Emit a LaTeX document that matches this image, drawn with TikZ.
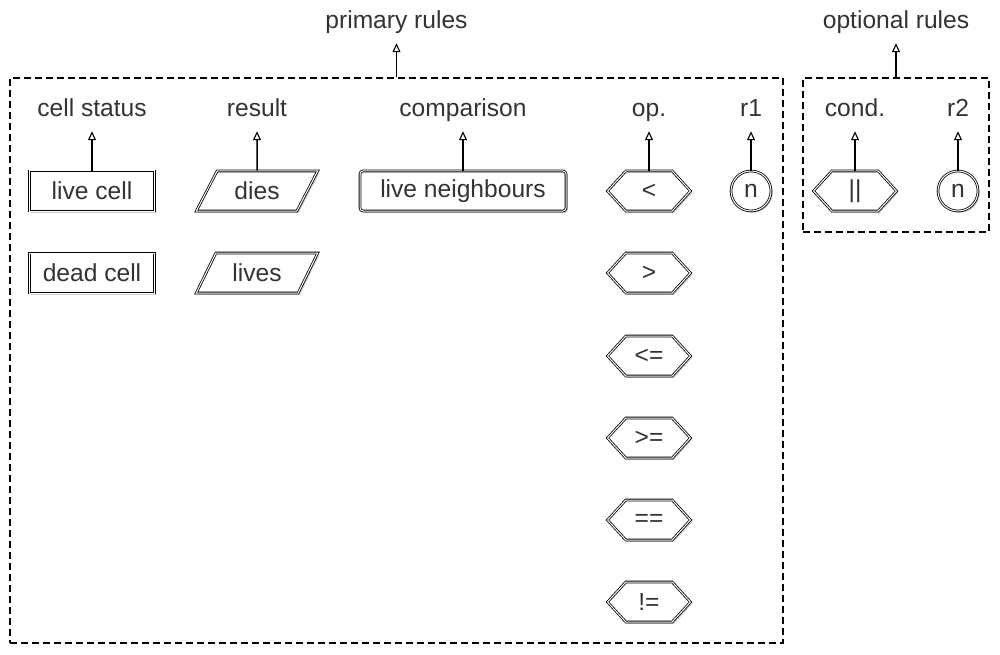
\documentclass[tikz,border=0pt]{standalone}
\usepackage{fontspec}
\setmainfont{Liberation Sans}
\usetikzlibrary{shapes.geometric,shapes.symbols,arrows.meta,shadows}
\definecolor{txt}{HTML}{333333}
\begin{document}
\begin{tikzpicture}[x=1pt,y=-1pt,
 every node/.style={font=\fontsize{24.6}{28}\selectfont, text=txt},
 sk/.style={draw, line width=0.8pt, double=white, double distance=1pt, fill=white,
   minimum height=40pt, inner sep=0pt,
   drop shadow={shadow xshift=1.8pt,shadow yshift=-1.8pt,fill=gray!40,opacity=1}},
 boxnode/.style={sk, rectangle, minimum width=125pt},
 para/.style={sk, trapezium, trapezium left angle=57, trapezium right angle=123,
   trapezium stretches=true, minimum width=122pt},
 hexa/.style={sk, signal, signal to=west and east, signal pointer angle=95, minimum width=83pt},
 circ/.style={sk, circle, minimum size=40pt},
 lbl/.style={anchor=base, inner sep=0pt, text depth=5pt},
 up/.style={-{Triangle[open,length=9pt,width=8pt,line width=1.1pt]}, line width=1.5pt, shorten >=9pt},
 grp/.style={draw, line width=1.9pt, dash pattern=on 7pt off 4pt, inner sep=0pt}
]
\useasboundingbox (0,0) rectangle (1000,655);
% groups
\node[grp, minimum width=773pt, minimum height=565pt] (prim) at (396.5,360.5) {};
\node[grp, minimum width=186pt, minimum height=154pt] (opt) at (896,155) {};
\node[lbl] (plabel) at (396.5,29) {primary rules};
\node[lbl] (olabel) at (896,29) {optional rules};
\draw[up] (prim.north) -- (plabel.south);
\draw[up] (opt.north) -- (olabel.south);
% headers
\node[lbl] (hcs) at (92,117) {cell status};
\node[lbl] (hres) at (257,117) {result};
\node[lbl] (hcmp) at (463,117) {comparison};
\node[lbl] (hop) at (649,117) {op.};
\node[lbl] (hr1) at (751,117) {r1};
\node[lbl] (hcond) at (855,117) {cond.};
\node[lbl] (hr2) at (958,117) {r2};
% nodes
\node[boxnode] (live) at (92,191) {live cell};
\node[boxnode] (dead) at (92,273) {dead cell};
\node[para] (dies) at (257,191) {dies};
\node[para] (lives) at (257,273) {lives};
\node[boxnode, rounded corners=3pt, minimum width=206pt] (nb) at (463,191) {live neighbours};
\node[hexa] (lt) at (649,191) {<};
\node[hexa] (gt) at (649,273) {>};
\node[hexa] (le) at (649,356) {<=};
\node[hexa] (ge) at (649,438) {>=};
\node[hexa] (eq) at (649,520) {==};
\node[hexa] (ne) at (649,602) {!=};
\node[circ] (n1) at (751,191) {n};
\node[hexa] (or) at (855,191) {||};
\node[circ] (n2) at (958,191) {n};
% arrows
\draw[up] (live.north) -- (hcs.south);
\draw[up] (dies.north) -- (hres.south);
\draw[up] (nb.north) -- (hcmp.south);
\draw[up] (lt.north) -- (hop.south);
\draw[up] (n1.north) -- (hr1.south);
\draw[up] (or.north) -- (hcond.south);
\draw[up] (n2.north) -- (hr2.south);
\end{tikzpicture}
\end{document}
